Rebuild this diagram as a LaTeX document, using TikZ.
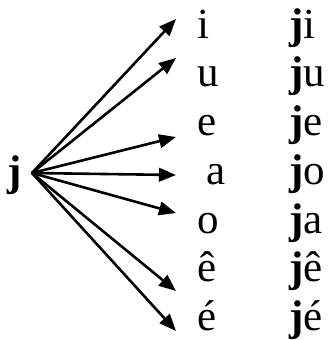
\documentclass[tikz,border=0pt]{standalone}
\usepackage{fontspec}
\setmainfont{Liberation Serif}
\usetikzlibrary{arrows.meta}
\begin{document}
\begin{tikzpicture}[x=1pt,y=-1pt,
  txt/.style={anchor=base west,inner sep=0pt,font=\fontsize{43}{50}\selectfont},
  arr/.style={line width=2.6pt,-{Triangle[length=17pt,width=13.5pt]}}]
\useasboundingbox (0,0) rectangle (327,340);
\node[txt] (j) at (7,185) {\textbf{j}};
\coordinate (o) at (32,173);
\foreach \n/\y/\a/\b/\dx in {1/38/i/i/0,2/86.7/u/u/0,3/135.3/e/e/0,4/184.5/a/o/9.5,5/233/o/a/0,6/281.5/ê/ê/0,7/330/é/é/0}{
  \node[txt] (v\n) at (197+\dx,\y) {\a};
  \node[txt] (w\n) at (289,\y) {\textbf{j}\b};
}
\foreach \n/\ty in {1/19,2/58,3/137,4/175,5/213,6/291,7/331}{
  \coordinate (t\n) at (176,\ty);
  \draw[arr] (o) -- (t\n);
}
\end{tikzpicture}
\end{document}
